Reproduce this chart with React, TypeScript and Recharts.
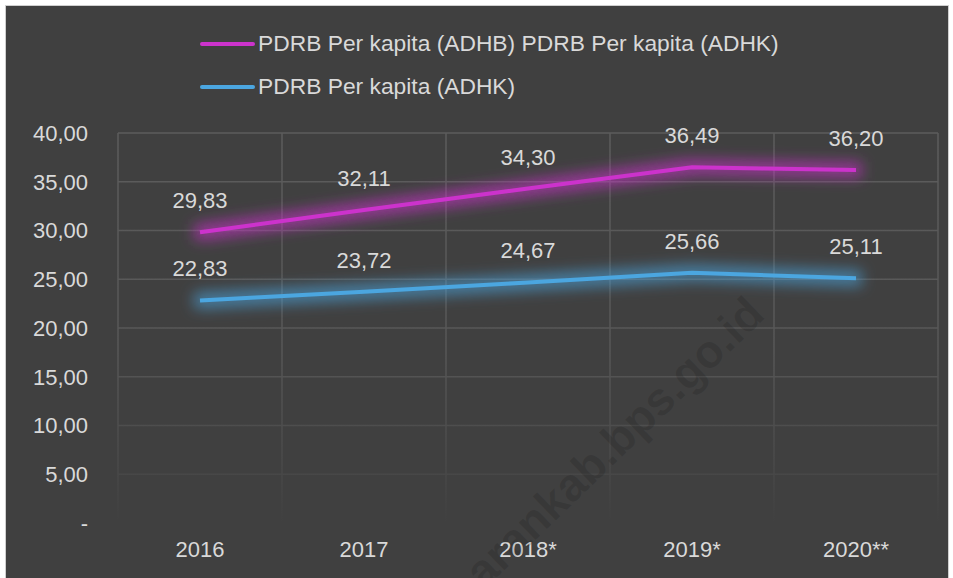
import { LineChart, Line, XAxis, YAxis, CartesianGrid, Legend, LabelList } from 'recharts';

const years = ['2016', '2017', '2018*', '2019*', '2020**'];
const adhb = [29.83, 32.11, 34.3, 36.49, 36.2];
const adhk = [22.83, 23.72, 24.67, 25.66, 25.11];
const yTicks = [0, 5, 10, 15, 20, 25, 30, 35, 40];

const nameA = 'PDRB Per kapita (ADHB) PDRB Per kapita (ADHK)';
const nameB = 'PDRB Per kapita (ADHK)';

const MAGENTA = '#cc33cc';
const BLUE = '#4ba6e0';
const TEXT = '#d9d9d9';
const FONT = '"Liberation Sans", Arial, sans-serif';

const data = years.map((year, idx) => ({ idx, year, adhb: adhb[idx], adhk: adhk[idx] }));

const fmt = (v: number) => (v === 0 ? '-' : v.toFixed(2).replace('.', ','));

const LegendBox = (props: any) => {
  const items = props.payload || [];
  return (
    <div style={{ fontFamily: FONT, fontSize: 22.8, color: TEXT }}>
      {items.map((it: any) => (
        <div key={it.value} style={{ display: 'flex', alignItems: 'center', height: 43 }}>
          <span style={{ display: 'inline-block', width: 55, height: 4, borderRadius: 2, background: it.color, marginRight: 3 }} />
          <span>{it.value}</span>
        </div>
      ))}
    </div>
  );
};

export default function App() {
  return (
    <div style={{ position: 'absolute', left: 0, top: 0, width: 953, height: 578, background: '#fff', overflow: 'hidden' }}>
      <div style={{ position: 'absolute', left: 5, top: 5, width: 942, height: 580, background: '#404040', border: '1px solid #cfcfcf' }}>
        <LineChart width={942} height={572} data={data} margin={{ top: 127, right: 10, left: 0, bottom: 15 }} style={{ fontFamily: FONT }}>
          <defs>
            <filter id="glowA" filterUnits="userSpaceOnUse" x="0" y="0" width="942" height="572">
              <feMorphology in="SourceGraphic" operator="dilate" radius="6" result="d" />
              <feGaussianBlur in="d" stdDeviation="7" result="b" />
              <feComponentTransfer in="b" result="bf"><feFuncA type="linear" slope="0.6" /></feComponentTransfer>
              <feMerge><feMergeNode in="bf" /><feMergeNode in="SourceGraphic" /></feMerge>
            </filter>
            <linearGradient id="gridFade" gradientUnits="userSpaceOnUse" x1="0" y1="127" x2="0" y2="517">
              <stop offset="0" stopColor="#5c5c5c" />
              <stop offset="0.55" stopColor="#575757" />
              <stop offset="0.85" stopColor="#494949" />
              <stop offset="1" stopColor="#404040" />
            </linearGradient>
          </defs>
          <CartesianGrid
            stroke="url(#gridFade)"
            strokeWidth={1.5}
            verticalCoordinatesGenerator={({ offset }: any) => [0, 1, 2, 3, 4, 5].map((i) => offset.left + (i * offset.width) / 5)}
          />
          <XAxis
            type="number"
            dataKey="idx"
            domain={[-0.5, 4.5]}
            ticks={[0, 1, 2, 3, 4]}
            tickFormatter={(v: number) => years[v]}
            axisLine={false}
            tickLine={false}
            tickSize={0}
            tickMargin={18}
            height={40}
            tick={{ fill: TEXT, fontSize: 22 }}
          />
          <YAxis
            domain={[0, 40]}
            ticks={yTicks}
            tickFormatter={fmt}
            axisLine={false}
            tickLine={false}
            tickSize={0}
            tickMargin={30}
            width={112}
            tick={{ fill: TEXT, fontSize: 22 }}
          />
          <Legend
            layout="vertical"
            align="center"
            verticalAlign="middle"
            wrapperStyle={{ top: 16, left: 194, width: 700 }}
            content={<LegendBox />}
          />
          <Line
            name={nameA}
            dataKey="adhb"
            stroke={MAGENTA}
            strokeWidth={4}
            dot={false}
            activeDot={false}
            filter="url(#glowA)"
            isAnimationActive={false}
          >
            <LabelList dataKey="adhb" position="top" offset={24} formatter={(v: any) => fmt(Number(v))} fill={TEXT} fontSize={22} />
          </Line>
          <Line
            name={nameB}
            dataKey="adhk"
            stroke={BLUE}
            strokeWidth={4}
            dot={false}
            activeDot={false}
            filter="url(#glowA)"
            isAnimationActive={false}
          >
            <LabelList dataKey="adhk" position="top" offset={24} formatter={(v: any) => fmt(Number(v))} fill={TEXT} fontSize={22} />
          </Line>
        </LineChart>
        <div
          style={{
            position: 'absolute',
            left: 608 - 300,
            top: 436 - 30,
            width: 600,
            height: 60,
            lineHeight: '60px',
            textAlign: 'center',
            fontFamily: FONT,
            fontWeight: 'bold',
            fontSize: 46,
            color: 'rgba(0,0,0,0.13)',
            transform: 'rotate(-44deg)',
            pointerEvents: 'none',
          }}
        >
          arankab.bps.go.id
        </div>
      </div>
    </div>
  );
}
